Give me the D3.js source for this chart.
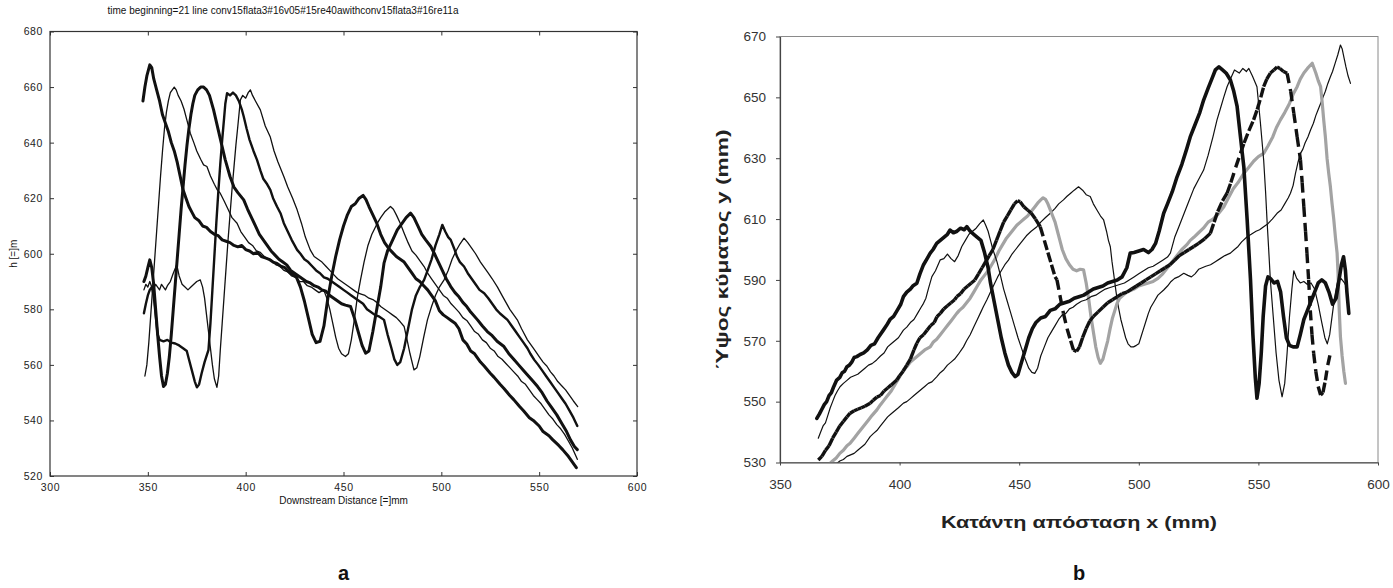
<!DOCTYPE html>
<html>
<head>
<meta charset="utf-8">
<script src="https://cdn.jsdelivr.net/npm/d3@7"></script>
<style>
  html, body { margin: 0; padding: 0; background: #fff; }
  svg { display: block; }
</style>
</head>
<body>
<svg id="chart" width="1393" height="588"></svg>
<script>
// ---------- Panel a: MATLAB-style profiles, h vs downstream distance ----------
const aTitle = "time beginning=21 line conv15flata3#16v05#15re40awithconv15flata3#16re11a";
const aXTicks = [300, 350, 400, 450, 500, 550, 600];
const aYTicks = [520, 540, 560, 580, 600, 620, 640, 660, 680];

const aProfile1 = [[347.5,655],[348.5,660],[349.5,664],[351,668],[352,667],[353,663],[354.5,659],[356,655],[357.5,650],[359,647],[360.5,644],[362,640],[363.5,637],[365,633],[366.5,628],[368,623],[369.5,620],[371,617],[372.5,615],[374,613],[376,612],[378,610],[380,609.5],[382,608],[384,607],[386,606.5],[388,605],[390,604.5],[392,604],[394,603],[396,602.5],[398,603],[400,601.5],[402,601],[404,600],[406,600.5],[408,599],[410,598.5],[412,598],[414,597],[416,596.5],[418,595.5],[420,595],[422,593.5],[424,592.5],[426,591.5],[428,588],[430,583],[432,577],[434,571],[436,568],[438,568.5],[440,574],[442,584],[444,592],[446,599],[448,605],[450,610],[452,614],[454,617],[456,618],[458,620],[460,621],[461.5,619.5],[463,617],[465,614],[467,611],[469,607],[471,604],[473,602],[475,600.5],[477,599],[479,598],[481,597],[483,595],[485,593],[487,591],[489,590],[491,588.5],[493,587],[495,585],[497,583],[499,579.5],[501,578],[503,577],[505,576],[507,575],[509,573],[511,569],[513,567.5],[515,565],[517,564],[520,561],[522,559.5],[525,557],[527,555.5],[530,553],[532,551.5],[535,549],[537,547.5],[540,545],[542,543.5],[545,541],[547,540],[550,538],[552,536],[555,534.5],[557,533],[560,531],[562,529.5],[565,527],[567,525],[569,523]];
const aProfile2 = [[348.5,556],[349.5,560],[350.5,568],[351.5,578],[352.5,588],[353.5,598],[354.5,608],[355.5,618],[356.5,628],[357.5,637],[358.5,645],[359.5,651],[360.5,655],[361.5,658],[362.5,659],[363.5,660],[364.5,659],[365.5,657],[367,655],[368.5,652],[370,648],[371.7,643.4],[373.5,640],[375,637],[377,634],[378.5,632],[380.2,631.4],[382,628],[384,625],[385.5,623],[387,621.8],[389,619],[391,616],[393,613],[395.6,611],[397.5,608],[399.5,606],[401.5,604],[403.5,603],[405.5,601],[407.5,600.5],[409.5,599],[411.5,598],[413.5,597.5],[415.5,596],[417.5,595.5],[419.5,594],[421.5,593.5],[423.5,592],[425.5,591.5],[427.5,590],[429.5,590],[431.5,588.5],[433.5,588],[435.5,587],[437.5,586],[439.9,587],[441.5,584],[443,580],[444.5,575],[446,570],[447.5,566],[449,564],[451,563],[452.5,564],[454,569],[455.5,576],[457,584],[458.7,590.6],[460.5,597],[462.5,603],[464.5,607],[467.3,611],[469,613],[471,615],[472.5,616],[474,617],[475.5,616],[477,614],[479,611],[481,607.4],[483,604],[485,601],[487,599.5],[489,597.5],[491.2,595.4],[493,593],[495,591],[497,589],[499,587],[501,585],[503,584],[505,582],[507,580.5],[509,579],[511,577],[513,576],[515,574],[517,572],[519,571],[521,569],[523,568],[525,566],[527,565],[529,563],[531,562],[533,560.5],[535,559],[537,557.5],[539,556],[541,554],[543,553],[545,551],[547,549],[549,547.5],[551,546],[553,544],[555,542],[557,540.5],[559,538.5],[561,537],[563,535],[565,532.5],[567,530],[569.5,526]];
const aProfile3 = [[348,590],[349,592],[350,595],[351,597.8],[352,595],[353,589],[354,580],[355,571],[356,563],[357,556],[358,552.2],[359,553],[360,557],[361,563],[362,571],[363,580],[364,589],[365,598],[366,607],[367,616],[368,624],[369,632],[370,639],[371,645],[372,650],[373,654],[374,657],[375.5,659],[377,660],[378.5,660],[380,659],[381.5,657],[383.6,651.8],[385.5,646],[387.5,640],[389.5,634],[392,627.8],[394,624],[396,622],[399,619.4],[401,616],[403,613],[405,610],[407,607],[409,605],[411,603],[413,601],[415,599.5],[417,598],[419,597],[421,596],[423,594],[425,593],[427,592],[429,591],[431,590],[433,589.5],[435,588.5],[437,588],[439,587],[441,586.5],[443,585],[445,584],[447,583],[449,582],[451,581.5],[453.6,581],[455.5,577],[457.5,572],[459.5,567],[461.3,564.2],[463,565],[465,572],[467,580],[469,588],[470.7,596.6],[472.5,601],[474.5,604],[477.5,608.6],[480,611],[482,613],[484.3,614.6],[486,613],[488,610],[490,607],[492,605],[494.6,602.6],[496.5,600],[498.5,597],[500.5,594],[502.5,591],[504.8,588.2],[507,586],[509,584.5],[511,582.5],[513,581],[515,579],[518.5,576.2],[521,574],[523.5,572],[526,570.5],[528.5,568.5],[532,566.6],[534.5,564],[537,562],[539.5,560],[542,558],[544.5,556],[547,554],[549.2,552.2],[551.5,550],[554,547],[556.5,544.5],[559,542],[561.5,539],[564,536],[566,533],[568,530.6],[569.5,529.5]];
const aProfile4 = [[348,578.6],[349,582],[350,585],[351,587],[352,588],[353,585],[354,578],[355,571],[356,569],[358,568.5],[360,569],[362,568],[364,567.7],[366,567],[368,566],[369.9,565],[371,562],[372.5,558],[374,554],[375.1,551.9],[376.2,553],[377.5,557],[379,561],[381,565.4],[382,575],[383,587],[384,599],[385,611],[386,622],[387,632],[388,641],[389,649],[389.6,654],[390.5,657.8],[392,657],[393.5,658],[395,657],[396.5,655],[398,652],[399,649.4],[400.5,645],[402,641],[404,637],[405.8,633.8],[407.5,630],[409,627],[411,625],[412.6,623],[414,620],[416,617],[417.8,614.6],[419.5,611],[421.5,608],[423.5,605],[426.3,601.4],[428,600],[430,598],[432,597],[434,595.5],[436,594],[438,593],[440,591.5],[442,591],[444,590],[446,589],[448,588],[450,587],[452,586],[454,585],[456,584],[458,583],[460,582],[462,580],[464,579],[466,578],[468,577.5],[470.7,576.2],[472.5,571],[474.5,566],[476,562],[477.5,560],[479,561],[481,566],[483,573],[485,580],[487,585],[489,588],[491.2,590.6],[493,594],[495,598],[497,603],[499,607],[500.5,610.4],[502,608],[503.5,606],[504.8,605],[506.5,602],[508,599],[509.5,597],[511.6,595.4],[513.5,593],[515.5,591],[517.5,589],[519.5,587],[521.9,585.8],[524,584],[526,582],[528,580],[530,578.5],[533.8,576.2],[536,574],[538,572],[540,570],[542,568],[544,566],[545.5,564],[547.5,561.8],[549.5,560],[551.5,558],[553.5,556],[555.5,554],[557.5,552],[559.5,550],[561.5,548],[563.5,546],[565.5,543.5],[567.5,541],[569.5,538]];
const aProfile5 = [[348,587],[349,589],[350,588],[351,590],[352,588],[353,587.5],[354,589],[355,588],[356,587],[357,589],[358,588],[359,587],[360,588.5],[361.5,590],[363,593],[364.8,596],[366,592],[367.5,589],[369,588],[370.5,587],[372,588],[373.5,589],[375,590],[376.8,590.6],[378,588],[379,584],[380,578],[381,572],[382,566],[383,560],[384,555],[385.3,551.9],[386.2,556],[387,565],[388,575],[389,585],[390,595],[391,605],[392,614],[393,623],[394,631],[395,639],[396,646],[397.3,655.4],[398.5,657],[400,656],[401.3,658],[402.4,659],[403.5,657],[405,655],[407.5,651.8],[410,646],[412.6,642],[414.5,637],[416.5,633],[419.5,627.8],[421.5,624],[424,620],[426.3,615.8],[428.5,611],[430.5,606],[433,601.4],[435,599],[437,598],[439,597],[441,595.5],[443,594],[445,592.5],[447,591],[449,590],[451,589],[453,588],[455,587],[457,586],[459,585.5],[461,585],[463,584],[465,583.5],[467,582.5],[469,581],[471,580],[473,579],[475,578],[477,577],[479,575.5],[481,573.8],[482.5,569],[484,564],[486,558.2],[487.5,559],[489,563],[491,570],[492.9,576.2],[495,581],[497,585],[499,588],[501.4,590.6],[503.5,594],[505.5,598],[507.5,601],[509.5,603.5],[511.6,605.6],[513.5,604],[515.5,602],[517.5,600],[520,597],[522,595],[524,593],[526,591],[528.7,588],[531,585],[533,582.5],[535,580],[537,578],[539,576],[541,573],[544,569],[546,567],[548,565],[550,563],[552,561],[554,559.5],[555.8,557.5],[557.6,556],[559.5,554],[561.5,552.5],[563.5,551],[565.5,549],[567.5,547],[569.7,545]];

const aSeries = [
  { data: aProfile1, width: 3.0 },
  { data: aProfile2, width: 1.3 },
  { data: aProfile3, width: 3.0 },
  { data: aProfile4, width: 2.4 },
  { data: aProfile5, width: 1.3 }
];

// ---------- Panel b: Excel-style profiles, wave height vs downstream distance ----------
const bXTicks = [350, 400, 450, 500, 550, 600];
const bYTicks = [530, 550, 570, 590, 610, 630, 650, 670];

const bProfile1 = [[365.4,544.5],[366.5,546],[367.5,547.5],[368.5,549],[369.5,550],[370.5,552],[371.5,553],[372.5,555],[373.7,557.1],[375,558],[376,559.5],[377,560],[378,561.5],[379,562],[380,563],[381,564.5],[382.1,564.8],[383.5,565.5],[385,566],[386.5,567],[388,568.5],[389.5,569],[391,571],[393.2,573.5],[394.5,575],[396,577],[397.5,578],[399,580],[400.5,582],[401.6,584.5],[403,586],[404.5,587],[405.5,588],[407.2,588.9],[408.5,592],[410,595],[411.5,597],[412.8,598.8],[414,600],[415.5,602],[417,603],[418.5,604],[420,605],[421.1,606.4],[422.5,605.5],[424,606],[425.5,607],[427,606.5],[428.1,607.5],[429.5,606],[431,605],[432.5,604],[434,603],[435.5,599],[437,594],[438,589],[439.5,583],[441,577],[442.5,571],[444,566],[445.5,562],[447,559.5],[448.3,558.2],[449.5,559],[451,563],[452.5,567],[454,571],[455.5,574],[457,576],[459,577.5],[461,578],[463,580],[465,580.5],[467,582],[469,582.5],[471,583],[473,584],[475,584.5],[477,585],[479,586],[481,587],[483,587.5],[485,588],[487,589],[489,589.5],[491,590],[493,591],[495,594],[496.4,598.8],[498,599],[500,599.5],[502,600],[504,599],[505.5,600],[507,602],[508.5,606],[510.4,611.9],[512,615],[514,619],[516,623.9],[518,628],[520,633],[521.5,637],[523.5,641],[525.5,645],[527.1,649.1],[529,653],[530.5,656],[532,659],[533.5,660],[535,659],[536.5,658],[538.3,655.7],[539.7,652],[541.1,647],[542.5,637],[543.9,627.2],[545.3,609.7],[546.7,590],[547.7,572],[548.7,558],[549.4,551.1],[550.3,556],[551.2,566],[552,578],[553,588],[554,591],[555,590.5],[556.5,589],[558,589.5],[559.3,586],[560.5,578],[561.7,571],[563,568.5],[564.5,568],[566.2,568],[567.5,572],[569,577],[570.5,580],[572,583],[573.5,586],[575,589],[576.5,590],[578,589],[579.5,586],[581,582],[582.5,584],[583.5,589],[584.7,595],[585.6,597.6],[586.4,593],[587,586],[587.8,579]];
const bProfile2 = [[366,538],[367,540],[368,542],[369,543],[370,545.5],[371,548],[372,550],[373,552],[374,553.5],[375.1,554.9],[376.5,556],[378,557],[379.5,558],[381,558.5],[382.5,559],[384,560],[385.5,561],[387,562],[388.5,562.5],[390.4,563.7],[392,565],[393.5,566],[395,568],[396.5,569],[398,570],[399.5,571],[401.6,573.5],[403,574.5],[404.5,576],[406,577],[407.5,579],[409,581],[410,582.3],[411,584],[412,587],[413.5,591.1],[415,593],[417,596.6],[418.5,597],[420,598.5],[421.5,597],[423,596],[424.5,598],[426,601],[427.5,603],[429,605],[430.5,606],[432,607],[433.5,608.5],[435,609.7],[436,608],[437,606],[438,603],[439,600],[440.7,596],[442,592],[443.5,587],[445,583],[446.5,579],[448,575],[449.5,571],[451,567.5],[452.5,564],[454,561],[455.3,559.6],[456.5,559.3],[457.7,561],[459,565],[460.5,568],[462,571],[463.5,573],[465,575],[466.5,577],[468,578.5],[469.5,579],[471,580.5],[472.5,581],[474,582],[476,583],[478,583.5],[480,584.5],[482,585],[484,586],[486,587],[488,587.5],[490,588],[492,588.5],[494,589],[496,590],[498,591],[500,592],[502,593],[504,594],[506,594.5],[508,595.5],[510,596.5],[512,597.5],[513.2,598.8],[515,604],[517,608],[519,612],[521,616],[523,620],[525,623],[527.1,626.1],[529,631],[531,637],[532.7,642.6],[534,646],[535.5,650],[536.9,653.5],[538.3,656],[540,659],[542,658],[543.5,659.5],[545,658.5],[546,659.5],[547.5,657],[549.4,653.5],[550.8,642],[552.2,629.4],[553,619],[553.6,609.7],[554.3,600],[555,590],[556.2,578],[557.4,566],[558.6,557],[559.9,551.6],[561,556],[562,566],[563,578],[564,587],[564.8,593],[566,590.5],[567.5,589],[569,589.5],[570.5,588.5],[572,589],[573.5,587],[575,582],[576.5,576],[577.8,571],[578.8,569],[579.8,572],[580.8,578],[581.8,584],[583,589],[584.5,590.5],[586,589],[587.3,587]];
const bProfile3 = [[366,530.8],[367.5,532],[369,534],[370.5,535.5],[372,538],[373.5,540],[375,542],[376.5,543.5],[378,545],[379.3,546.2],[381,547],[382.5,547.5],[384,548],[385.5,548.5],[387.7,549.5],[389,550.5],[390.5,551.5],[392,552],[393.5,553.5],[395,554.5],[396.5,555.5],[398.8,557.1],[400,558.5],[401.5,560],[403,562],[404.5,564],[406,567],[407.2,569.2],[408.5,571],[410,572],[411.5,573.5],[413,575],[414.5,576],[415.6,577.9],[417,579],[418.5,580.5],[420,581.5],[421.5,582.5],[423,583.5],[423.9,584.5],[425.5,585.5],[427,587],[428.5,588],[430,589],[431.5,590],[433,592],[434.5,594],[436,596],[437.5,598],[439,600],[440.5,603],[442,606],[443.5,609],[445,611],[446.5,613],[448,615],[449.3,616],[450.4,615.7],[452,614],[453.5,613],[455,612],[456.8,610],[458.8,607.5],[460.5,603],[462,599],[463.5,595],[465,591],[465.8,590],[467,585],[468.5,579],[470,574],[471.5,570],[472.7,567],[474,566.5],[475.2,568],[476.5,571],[478,574],[479.5,576.5],[481,578],[483,579.5],[485,581],[487,582.5],[489,583.5],[491,584.5],[493,585.5],[495,586],[497,587],[499,588],[501,589],[503,590],[505,591],[507,592],[509,593],[511,594],[513,595],[515,596.5],[517,598],[519,599],[521,600],[523,601],[525,602],[527.5,603.5],[529.9,605.3],[531.5,609],[533,612.5],[535,616],[536.9,618.5],[538.5,622],[540.5,627],[542.5,631.6],[544,635],[546,639],[548,642.6],[549.5,646],[551,650],[552.2,653.5],[553.5,656],[555,658],[556.5,659],[557.8,660],[559,659.5],[560.5,658.5],[562,657.9],[563.5,652],[564.8,644.8],[566.2,637],[567.6,629.4],[568.3,622],[569,614],[569.7,606],[570.3,598.8],[571,590],[571.7,580],[572.4,572],[573.1,565.9],[574,560],[575,555],[576,552.2],[577,553],[578,557],[579,562],[580.1,566]];
const bProfile4 = [[370.9,529.7],[372,530.5],[373.5,531.5],[375,533],[376.5,534],[378,535.5],[379.3,536.3],[381,538],[382.5,539.5],[384,541],[385.5,542.5],[387,544],[388.5,545.5],[390.5,547.3],[392,549],[393.5,550.5],[395,552],[396.5,553.5],[398,555.5],[399.5,557.5],[401.6,560.4],[403,561.5],[404.5,563],[406,564],[407.5,565],[409,566],[410.5,567],[412.8,568],[414,569.5],[415.5,570.5],[417,572],[418.5,573.5],[420,575],[421.5,576.5],[423.9,579],[425,580],[426.5,581],[428,582.5],[429.5,584],[431,586],[432.5,588],[434,590],[435.5,591.5],[437,593],[438.5,595],[440,597],[441.5,599.5],[443,601.5],[444.5,603.5],[446,605],[447.5,606.5],[449,608],[450.5,609],[452,610],[453.5,611],[455,612.5],[456.5,614],[458,615.5],[459,616.3],[460,617],[461,616.5],[462,615],[463,613],[464,611],[465,609],[466,606],[467,603],[468,600],[469.5,597],[471,595],[472.5,593.5],[474,593],[475.5,593.5],[476.9,593.3],[478,589],[479,584],[480,578],[481,573],[482,568],[483,564.5],[483.9,562.6],[485,564],[486,567],[487,570],[488,574],[489,577.5],[490,580],[490.9,582.3],[492,584],[493.5,585],[495,586],[496.5,586.5],[498,587],[500,588],[502,588.5],[504,589],[506,589.5],[508,590.5],[510,592],[512,594],[514,596],[516,598],[518,600],[520,601.5],[521.5,603],[523,604],[525,605.5],[527,607],[529,609],[531,610],[533,611.5],[535.5,614],[537.5,617],[539.5,620],[541.5,622],[543.9,625],[546,627],[548,629],[550,630.5],[552.2,631.6],[554,634],[556,637],[557.5,640],[559.2,642.6],[561,645],[563,648],[564.5,651],[566.2,653.5],[567.5,656],[569,658],[570.5,659.5],[572.5,661.2],[574,658],[575,655.5],[576,653.5],[576.7,648],[577.3,642.6],[578,637],[578.7,630],[579.4,625],[580.1,620.6],[580.8,615],[581.5,610],[582.2,604],[582.9,598.8],[583.3,592],[583.8,580],[584.3,571.3],[585,565],[585.7,560],[586.4,556]];
const bProfile5 = [[372.3,528.6],[373.5,529.5],[375,530.5],[376.5,531],[378,532],[379.5,532.5],[381,533],[382.5,534],[384,535],[385.5,536],[387.7,538.5],[389,539.5],[390.5,540.5],[392,542],[393.5,543.5],[395,545],[396.5,546],[398,547],[399.5,548],[401.6,549.5],[403,550],[404.5,551],[406,552],[407.5,553],[409,554],[410.5,555],[412,556],[413.5,556.5],[415.6,558.2],[417,559.5],[418.5,560.5],[420,562],[421.5,563],[423,564],[424.5,565.5],[426.7,568],[428,570],[429.5,572],[431,574.5],[432.5,577],[434,579.5],[435,581.2],[436.5,583.5],[438,586],[439.5,588.5],[441,591],[442.5,593],[444,595],[445.5,596.5],[447,598.5],[448.5,600],[450,601.5],[451.5,603],[453,604.5],[455,606],[457.4,607.5],[459,609],[461,610.5],[463,611.9],[465,613.5],[466.5,615],[468.5,616.3],[470,617.5],[471.5,618.5],[473,619.5],[474.8,620.6],[476.5,619.5],[478,618],[479.7,617.4],[481,615],[482.5,613],[484,611],[485.3,609.7],[486.5,606],[487.3,603],[488.1,600.9],[488.8,596],[489.5,592],[490.5,586],[491.5,581],[492.5,577],[493.5,574],[494.5,571],[495.5,569],[496.7,568],[497.8,568],[499,568.5],[500,569],[501,571.5],[502,574],[503,576.5],[504,579],[505,581],[506.5,583],[508,585],[510.4,586.7],[512,588],[513.5,589.5],[515,590.5],[516.5,591],[518.8,592.2],[520.5,591.5],[522,591],[523.5,592],[525,593.5],[526.5,594],[528,594.5],[530,595],[532,596],[534,597],[536,598],[538.3,598.8],[540,600],[541.5,601],[543,602.5],[545.3,604.2],[547,605],[549,606],[550.5,606.5],[552.2,607.5],[554,608.5],[555.8,610],[557.8,611.9],[559.5,613],[561,615],[562.5,617],[563.4,618.5],[564.5,621],[565.5,625],[566.5,628.5],[567.6,631.6],[568.6,633],[569.5,635],[570.7,637],[571.8,639.3],[573,641.5],[574,644],[575,646],[576,648],[577,650],[578,652],[579,654.5],[580.1,656.8],[581,658.5],[582,661],[583.2,664],[584.3,667.2],[585,666],[585.8,663],[586.6,660],[587.5,657],[588.5,654.6]];

// dashed series restart their dash pattern on every segment, so the dashes
// only show where consecutive readings are far apart (the steep flanks)
const bSeries = [
  { data: bProfile5, color: "#111", width: 1.2, dash: null },
  { data: bProfile4, color: "#a3a3a3", width: 3.2, dash: null },
  { data: bProfile3, color: "#111", width: 3.4, dash: "10,6" },
  { data: bProfile2, color: "#111", width: 1.2, dash: null },
  { data: bProfile1, color: "#111", width: 3.6, dash: null }
];

const svg = d3.select("#chart");

// ---------- draw panel a ----------
(function drawA() {
  const L = 50, R = 637, T = 31.5, B = 476;
  const x = d3.scaleLinear().domain([300, 600]).range([L, R]);
  const y = d3.scaleLinear().domain([520, 680]).range([B, T]);
  const g = svg.append("g").attr("font-family", "'Liberation Sans', Arial, sans-serif");

  g.append("defs").append("clipPath").attr("id", "clipA")
    .append("rect").attr("x", L).attr("y", T).attr("width", R - L).attr("height", B - T);

  const line = d3.line().x(d => x(d[0])).y(d => y(d[1]));
  const lines = g.append("g").attr("clip-path", "url(#clipA)");
  aSeries.forEach(s => {
    lines.append("path").attr("d", line(s.data)).attr("fill", "none")
      .attr("stroke", "#111").attr("stroke-width", s.width)
      .attr("stroke-linejoin", "round").attr("stroke-linecap", "round");
  });

  // box with inward ticks on all four sides
  const axStyle = sel => {
    sel.select(".domain").remove();
    sel.selectAll(".tick line").attr("stroke", "#333");
    sel.selectAll(".tick text").attr("fill", "#222").attr("font-size", 10.5).attr("letter-spacing", "0.6px");
  };
  g.append("g").attr("transform", `translate(0,${B})`)
    .call(d3.axisBottom(x).tickValues(aXTicks).tickSizeInner(-4).tickSizeOuter(0).tickPadding(8).tickFormat(d3.format("d")))
    .call(axStyle);
  g.append("g").attr("transform", `translate(0,${T})`)
    .call(d3.axisTop(x).tickValues(aXTicks).tickSizeInner(-4).tickSizeOuter(0).tickFormat(""))
    .call(axStyle);
  g.append("g").attr("transform", `translate(${L},0)`)
    .call(d3.axisLeft(y).tickValues(aYTicks).tickSizeInner(-4).tickSizeOuter(0).tickPadding(7).tickFormat(d3.format("d")))
    .call(axStyle);
  g.append("g").attr("transform", `translate(${R},0)`)
    .call(d3.axisRight(y).tickValues(aYTicks).tickSizeInner(-4).tickSizeOuter(0).tickFormat(""))
    .call(axStyle);
  g.append("rect").attr("x", L).attr("y", T).attr("width", R - L).attr("height", B - T)
    .attr("fill", "none").attr("stroke", "#333").attr("stroke-width", 1.2);

  g.append("text").attr("x", 283).attr("y", 14).attr("text-anchor", "middle")
    .attr("font-size", 10).attr("fill", "#111").text(aTitle);
  g.append("text").attr("x", (L + R) / 2).attr("y", 504).attr("text-anchor", "middle")
    .attr("font-size", 10).attr("fill", "#111").text("Downstream Distance [=]mm");
  g.append("text").attr("transform", `translate(17,${(T + B) / 2}) rotate(-90)`)
    .attr("text-anchor", "middle").attr("font-size", 10).attr("fill", "#111").text("h [=]m");
  g.append("text").attr("x", (L + R) / 2).attr("y", 580).attr("text-anchor", "middle")
    .attr("font-size", 20).attr("font-weight", "bold").attr("fill", "#111").text("a");
})();

// ---------- draw panel b ----------
(function drawB() {
  const L = 780, R = 1378, T = 36.5, B = 462.5;
  const x = d3.scaleLinear().domain([350, 600]).range([L, R]);
  const y = d3.scaleLinear().domain([530, 670]).range([B, T]);
  const g = svg.append("g").attr("font-family", "'Liberation Sans', Arial, sans-serif");

  g.append("defs").append("clipPath").attr("id", "clipB")
    .append("rect").attr("x", L).attr("y", T).attr("width", R - L).attr("height", B - T);

  // plot-area frame (light) drawn first
  g.append("rect").attr("x", L).attr("y", T).attr("width", R - L).attr("height", B - T)
    .attr("fill", "none").attr("stroke", "#8a8a8a").attr("stroke-width", 1);

  const line = d3.line().x(d => x(d[0])).y(d => y(d[1]));
  const lines = g.append("g").attr("clip-path", "url(#clipB)");
  bSeries.forEach(s => {
    if (s.dash) {
      const sg = lines.append("g");
      d3.pairs(s.data).forEach(seg => {
        sg.append("path").attr("d", line(seg)).attr("fill", "none")
          .attr("stroke", s.color).attr("stroke-width", s.width)
          .attr("stroke-dasharray", s.dash).attr("stroke-linecap", "butt");
      });
    } else {
      lines.append("path").attr("d", line(s.data)).attr("fill", "none")
        .attr("stroke", s.color).attr("stroke-width", s.width)
        .attr("stroke-linejoin", "round").attr("stroke-linecap", "round");
    }
  });

  const axStyle = sel => {
    sel.select(".domain").attr("stroke", "#444").attr("stroke-width", 1.2);
    sel.selectAll(".tick line").attr("stroke", "#444");
    sel.selectAll(".tick text").attr("fill", "#333").attr("font-size", 13.5);
  };
  g.append("g").attr("transform", `translate(0,${B})`)
    .call(d3.axisBottom(x).tickValues(bXTicks).tickSizeInner(3).tickSizeOuter(0).tickPadding(14).tickFormat(d3.format("d")))
    .call(axStyle);
  g.append("g").attr("transform", `translate(${L},0)`)
    .call(d3.axisLeft(y).tickValues(bYTicks).tickSizeInner(4).tickSizeOuter(0).tickPadding(10).tickFormat(d3.format("d")))
    .call(axStyle);

  g.append("text").attr("x", (L + R) / 2).attr("y", 528).attr("text-anchor", "middle")
    .attr("font-size", 16).attr("font-weight", "bold").attr("fill", "#222")
    .attr("textLength", 276).attr("lengthAdjust", "spacingAndGlyphs")
    .text("Κατάντη απόσταση x (mm)");
  g.append("text").attr("transform", `translate(728,${(T + B) / 2}) rotate(-90)`)
    .attr("text-anchor", "middle").attr("font-size", 16).attr("font-weight", "bold").attr("fill", "#222")
    .attr("textLength", 240).attr("lengthAdjust", "spacingAndGlyphs")
    .text("Ύψος κύματος y (mm)");
  g.append("text").attr("x", (L + R) / 2).attr("y", 580).attr("text-anchor", "middle")
    .attr("font-size", 20).attr("font-weight", "bold").attr("fill", "#111").text("b");
})();
</script>
</body>
</html>
